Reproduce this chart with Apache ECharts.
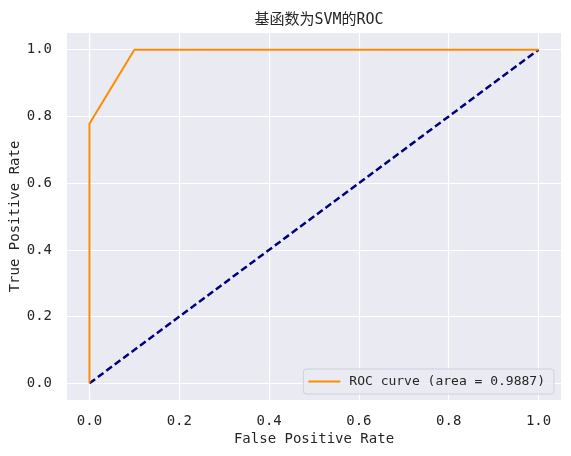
<!DOCTYPE html>
<html>
<head>
<meta charset="utf-8">
<script src="https://cdn.jsdelivr.net/npm/echarts@6/dist/echarts.min.js"></script>
<style>
  html, body { margin: 0; padding: 0; background: #fff; }
  #chart { width: 571px; height: 456px; }
</style>
</head>
<body>
<div id="chart"></div>
<script>
// ROC 曲线数据
var fpr = [0, 0, 0.1, 1];
var tpr = [0, 0.7778, 1, 1];
// 对角参考线
var diagX = [0, 1];
var diagY = [0, 1];
var tickValues = [0, 0.2, 0.4, 0.6, 0.8, 1.0];
var aucValue = 0.9887;

var font = "'DejaVu Sans Mono', 'Noto Sans CJK SC', monospace";
var textColor = '#262626';

var chart = echarts.init(document.getElementById('chart'));

function pairs(xs, ys) {
    return xs.map(function (x, i) { return [x, ys[i]]; });
}

var option = {
    backgroundColor: '#fff',
    animation: false,
    title: {
        text: '基函数为SVM的ROC',
        left: 314,
        top: 8,
        textAlign: 'center',
        textStyle: { fontFamily: font, fontSize: 15, fontWeight: 'normal', color: textColor }
    },
    grid: {
        left: 67, right: 10, top: 33, bottom: 56,
        outerBoundsMode: 'none',
        containLabel: false,
        show: true, backgroundColor: '#EAEAF2', borderWidth: 0
    },
    legend: {
        right: 17,
        bottom: 62,
        orient: 'vertical',
        itemWidth: 32,
        itemHeight: 2,
        itemGap: 0,
        padding: [6, 9, 6, 5],
        backgroundColor: 'rgba(234,234,242,0.8)',
        borderColor: '#D0D0D8',
        borderWidth: 1,
        borderRadius: 3,
        icon: 'rect',
        textStyle: { fontFamily: font, fontSize: 13, color: textColor, padding: [0, 0, 0, 4] },
        data: ['ROC curve (area = ' + aucValue + ')']
    },
    xAxis: {
        type: 'value',
        min: -0.05, max: 1.05,
        name: 'False Positive Rate',
        nameLocation: 'middle',
        nameGap: 32,
        nameMoveOverlap: false,
        nameTextStyle: { fontFamily: font, fontSize: 14, color: textColor },
        axisLine: { show: false },
        axisTick: { show: false, customValues: tickValues },
        axisLabel: {
            customValues: tickValues,
            margin: 14,
            fontFamily: font, fontSize: 14, color: textColor,
            formatter: function (v) { return v.toFixed(1); }
        },
        splitLine: { show: true, lineStyle: { color: '#fff', width: 1.2 } }
    },
    yAxis: {
        type: 'value',
        min: -0.05, max: 1.05,
        name: 'True Positive Rate',
        nameLocation: 'middle',
        nameGap: 45,
        nameMoveOverlap: false,
        nameTextStyle: { fontFamily: font, fontSize: 14, color: textColor },
        axisLine: { show: false },
        axisTick: { show: false, customValues: tickValues },
        axisLabel: {
            customValues: tickValues,
            margin: 15,
            fontFamily: font, fontSize: 14, color: textColor,
            formatter: function (v) { return v.toFixed(1); }
        },
        splitLine: { show: true, lineStyle: { color: '#fff', width: 1.2 } }
    },
    series: [
        {
            name: 'ROC curve (area = ' + aucValue + ')',
            type: 'line',
            data: pairs(fpr, tpr),
            showSymbol: false,
            symbol: 'none',
            lineStyle: { color: 'darkorange', width: 2 },
            itemStyle: { color: 'darkorange' },
            z: 3
        },
        {
            name: 'diag',
            type: 'line',
            data: pairs(diagX, diagY),
            showSymbol: false,
            symbol: 'none',
            lineStyle: { color: 'navy', width: 2.5, type: [7, 3.5] },
            z: 2
        }
    ]
};

chart.setOption(option);
</script>
</body>
</html>
